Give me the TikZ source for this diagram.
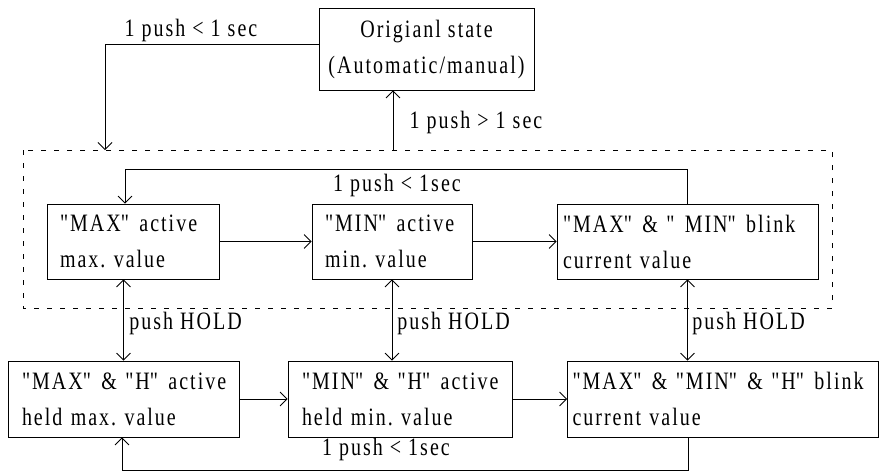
\documentclass[tikz,border=0pt]{standalone}
\usepackage{fontspec}
\setmainfont{Liberation Serif}[FakeStretch=0.8,LetterSpace=8]
\usetikzlibrary{arrows.meta}
\tikzset{>={Straight Barb[length=7pt,width=14pt]}}
\newcommand{\dq}[1]{\textquotedbl#1\textquotedbl}
\frenchspacing

\begin{document}
\begin{tikzpicture}[x=1pt,y=-1pt,line width=0.8pt,
    font=\fontsize{25}{36}\selectfont,
    statebox/.style={draw,align=left,inner xsep=13pt,inner ysep=0pt,minimum height=75pt},
    lbl/.style={inner sep=0pt}]
    \useasboundingbox (0,0) rectangle (879,472);
    % original state
    \node[draw,align=center,minimum width=215pt,minimum height=82pt,inner sep=0pt] (orig) at (426.5,49)
      {Origianl state\\(Automatic/manual)};
    \draw[dash pattern=on 5pt off 8pt] (23,150) rectangle (832,308);
    \coordinate (in) at (105,150);
    \coordinate (out) at (393,150);
    \draw[->] ([yshift=5pt]orig.west) -| (in);
    \draw[->] (out) -- (out |- orig.south);
    \node[lbl] (l1) at (191,30) {1 push < 1 sec};
    \node[lbl] (l2) at (476,122) {1 push > 1 sec};

    % min/max row
    \node[statebox,text width=146pt] (maxa) at (133,241.5) {\dq{MAX} active\\max. value};
    \node[statebox,text width=134pt] (mina) at (392,241.5) {\dq{MIN} active\\min. value};
    \node[statebox,text width=249pt,inner xsep=6pt] (blink) at (687.5,241.5) {\dq{MAX} \& \dq{ MIN} blink\\current value};
    \draw[->] (maxa) -- (mina);
    \draw[->] (mina) -- (blink);
    \draw[->] (blink.north) -- ++(0,-34) -| ([xshift=-8pt]maxa.north);
    \node[lbl] (l3) at (397,185) {1 push < 1sec};

    % hold row
    \node[statebox,text width=203pt,inner xsep=14pt,minimum height=76pt] (hmaxa) at (123.5,399) {\dq{MAX} \& \dq{H} active\\held max. value};
    \node[statebox,text width=196pt,inner xsep=14pt,minimum height=76pt] (hmina) at (400,399) {\dq{MIN} \& \dq{H} active\\held min. value};
    \node[statebox,text width=301pt,inner xsep=5pt,minimum height=76pt] (hblink) at (723,399) {\dq{MAX} \& \dq{MIN} \& \dq{H} blink\\current value};
    \draw[->] (hmaxa) -- (hmina);
    \draw[->] (hmina) -- (hblink);
    \draw[->] ([xshift=-35pt]hblink.south) -- ++(0,33) -| ([xshift=-1.5pt]hmaxa.south);
    \node[lbl] (l4) at (386,449) {1 push < 1sec};

    \draw[<->] (maxa.south -| hmaxa.north) -- (hmaxa.north);
    \draw[<->] (mina.south) -- (mina.south |- hmina.north);
    \draw[<->] (blink.south) -- (blink.south |- hblink.north);
    \node[lbl,anchor=west] (h1) at (129,323) {push HOLD};
    \node[lbl,anchor=west] (h2) at (397,323) {push HOLD};
    \node[lbl,anchor=west] (h3) at (692,323) {push HOLD};
\end{tikzpicture}
\end{document}
